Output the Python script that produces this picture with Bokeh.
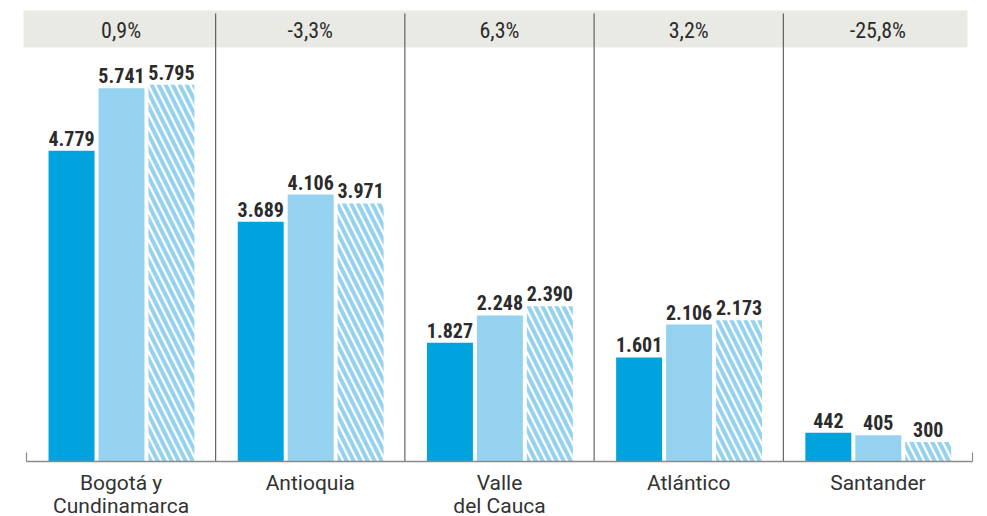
from bokeh.plotting import figure
from bokeh.models import Range1d
from bokeh.core.properties import value
from bokeh.embed import file_html
from bokeh.resources import INLINE

# ---- data ----
regions = ["Bogotá y\nCundinamarca", "Antioquia", "Valle\ndel Cauca", "Atlántico", "Santander"]
v2021 = [4779, 3689, 1827, 1601, 442]
v2022 = [5741, 4106, 2248, 2106, 405]
v2023 = [5795, 3971, 2390, 2173, 300]
pct_change = ["0,9%", "-3,3%", "6,3%", "3,2%", "-25,8%"]

# ---- layout constants (pixels) ----
W, H = 987, 516
GW = 189.2          # group width px
X0 = 26             # canvas x of first group start
XR = 972            # canvas x of axis end
BASE = 461          # canvas y of baseline
SCALE = 0.065       # px per unit

def px_x(cx):
    return (cx - X0) / GW

def px_y(cy):
    return (BASE - cy) / SCALE

p = figure(width=W, height=H, output_backend="svg", toolbar_location=None,
           x_range=Range1d(px_x(0), px_x(W)), y_range=Range1d(px_y(H), px_y(0)),
           x_axis_location=None, y_axis_location=None, min_border=0)
p.grid.visible = False
p.outline_line_color = None
p.background_fill_color = "white"
p.border_fill_color = "white"

n = len(regions)
idx = list(range(n))
offs = [0.238, 0.502, 0.766]
bw = 0.243

DARK = "#00A3DD"
LIGHT = "#94D2F0"
TXT = "#2b2b2b"

# top band
p.quad(left=[px_x(23)], right=[px_x(967)], bottom=[px_y(47)], top=[px_y(10)],
       fill_color="#EAEAE5", line_color=None)

# separators
p.segment(x0=[i for i in range(1, n)], x1=[i for i in range(1, n)],
          y0=[0] * (n - 1), y1=[px_y(13)] * (n - 1), line_color="#444444", line_width=1)

# bars
xa = [i + offs[0] for i in idx]
xb = [i + offs[1] for i in idx]
xc = [i + offs[2] for i in idx]
p.vbar(x=xa, top=v2021, width=bw, bottom=0, fill_color=DARK, line_color=None)
p.vbar(x=xb, top=v2022, width=bw, bottom=0, fill_color=LIGHT, line_color=None)
p.vbar(x=xc, top=v2023, width=bw, bottom=0, fill_color="white", line_color=None,
       hatch_pattern="left_diagonal_line", hatch_color=LIGHT, hatch_weight=4, hatch_scale=14)

# baseline + end ticks
p.segment(x0=[px_x(X0)], x1=[px_x(XR)], y0=[0], y1=[0], line_color="#8a8a8a", line_width=1.5)
p.segment(x0=[px_x(X0), px_x(XR)], x1=[px_x(X0), px_x(XR)], y0=[0, 0],
          y1=[px_y(BASE - 9)] * 2, line_color="#8a8a8a", line_width=1.2)

def fmt(v):
    return f"{v:,}".replace(",", ".")

for xs, vs in ((xa, v2021), (xb, v2022), (xc, v2023)):
    p.text(x=xs, y=vs, text=[fmt(v) for v in vs], text_align="center", text_baseline="bottom",
           y_offset=-5, text_font=value("Roboto Condensed"), text_font_style="bold",
           text_font_size="20px", text_color=TXT)

# percent labels
p.text(x=[i + 0.5 for i in idx], y=[px_y(30)] * n, text=pct_change, text_align="center",
       text_baseline="middle", text_font=value("Roboto Condensed"), text_font_size="22px",
       text_color=TXT)

# category labels
line1 = [r.split("\n")[0] for r in regions]
line2 = [r.split("\n")[1] if "\n" in r else "" for r in regions]
p.text(x=[i + 0.5 for i in idx], y=[px_y(482)] * n, text=line1, text_align="center",
       text_baseline="middle", text_font=value("Roboto"),
       text_font_size="21px", text_color="#333333")
p.text(x=[i + 0.5 for i in idx], y=[px_y(505)] * n, text=line2, text_align="center",
       text_baseline="middle", text_font=value("Roboto"),
       text_font_size="21px", text_color="#333333")

open("out.html", "w").write(file_html(p, INLINE))
